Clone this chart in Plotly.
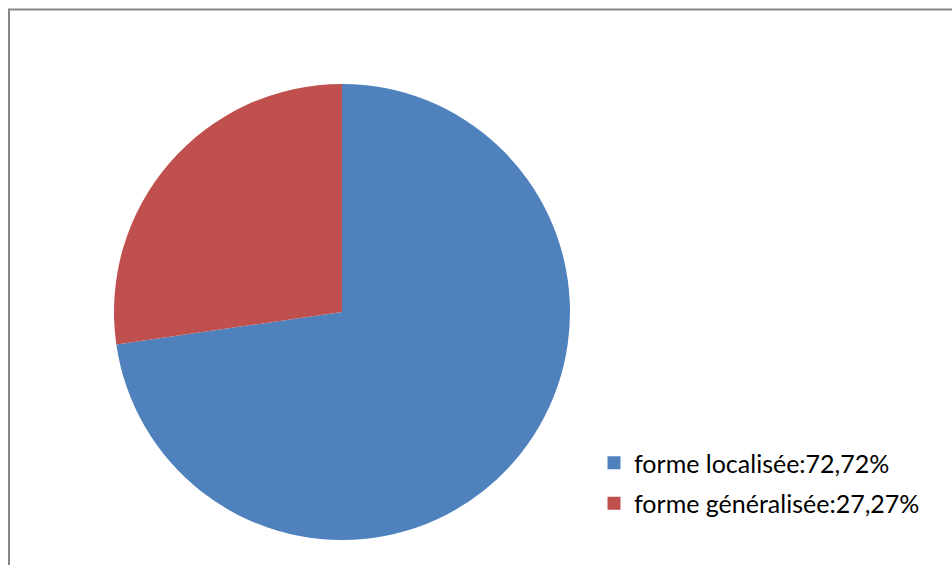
import plotly.graph_objects as go

labels = ["forme localisée:72,72%", "forme généralisée:27,27%"]
values = [72.72, 27.27]
colors = ["#4F81BD", "#C0504D"]

W, H = 952, 565
cx, cy, r = 342, 312, 228

fig = go.Figure()
fig.add_trace(go.Pie(
    labels=labels, values=values, sort=False, direction="clockwise", rotation=0,
    marker=dict(colors=colors, line=dict(width=0)),
    textinfo="none", showlegend=False,
    domain=dict(x=[(cx - r) / W, (cx + r) / W], y=[(H - cy - r) / H, (H - cy + r) / H]),
))
for i, (lab, col) in enumerate(zip(labels, colors)):
    fig.add_trace(go.Scatter(
        x=[None], y=[None], mode="markers", name=lab, legendgroup=str(i),
        marker=dict(symbol="square", size=13, color=col),
    ))

fig.update_layout(
    width=W, height=H, margin=dict(l=0, r=0, t=0, b=0),
    paper_bgcolor="white", plot_bgcolor="white",
    xaxis=dict(visible=False), yaxis=dict(visible=False),
    legend=dict(x=594 / W, y=(H - 440) / H, xanchor="left", yanchor="top",
                font=dict(family="Lato", size=25, color="#000000"),
                tracegroupgap=5, itemwidth=30, bgcolor="rgba(0,0,0,0)"),
    shapes=[dict(type="rect", xref="paper", yref="paper",
                 x0=9 / W, x1=1.5, y0=-0.5, y1=(H - 9.5) / H,
                 line=dict(color="#868686", width=2))],
)
fig.write_html(
    "out.html",
    config={"displayModeBar": False},
    post_script="document.body.style.margin='0';document.body.style.overflow='hidden';",
)
